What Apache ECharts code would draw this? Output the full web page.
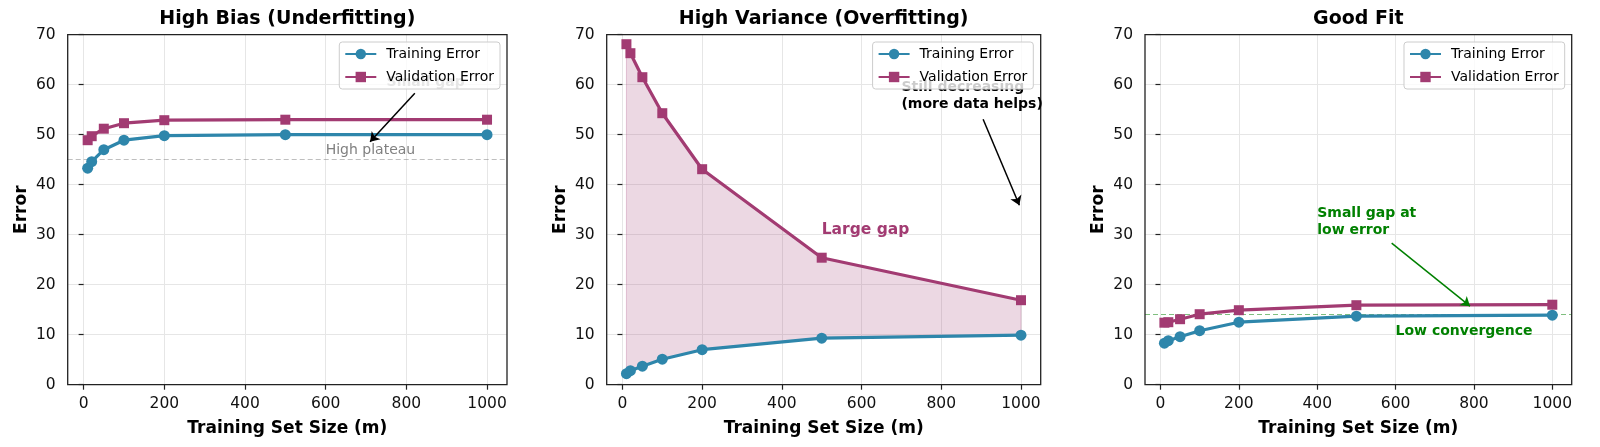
<!DOCTYPE html>
<html>
<head>
<meta charset="utf-8">
<script src="https://cdn.jsdelivr.net/npm/echarts@6/dist/echarts.min.js"></script>
<style>
html, body { margin: 0; padding: 0; background: #fff; }
#main { width: 1600px; height: 447px; }
</style>
</head>
<body>
<div id="main"></div>
<script>
var myChart = echarts.init(document.getElementById('main'));

// training set sizes (x)
var sizes = [10, 20, 50, 100, 200, 500, 1000];

// high bias
var biasTrain = [43.3, 44.6, 47.0, 48.9, 49.8, 50.0, 50.0];
var biasVal = [48.9, 49.7, 51.2, 52.3, 52.9, 53.0, 53.0];
// high variance
var varTrain = [2.2, 2.8, 3.7, 5.1, 7.0, 9.3, 9.9];
var varVal = [68.1, 66.3, 61.5, 54.3, 43.1, 25.4, 16.9];
// good fit
var goodTrain = [8.3, 8.8, 9.6, 10.8, 12.5, 13.7, 13.9];
var goodVal = [12.4, 12.5, 13.1, 14.1, 14.9, 15.9, 16.0];

var xTicks = [0, 200, 400, 600, 800, 1000];
var titles = ['High Bias (Underfitting)', 'High Variance (Overfitting)', 'Good Fit'];
var seriesNames = ['Training Error', 'Validation Error'];

var BLUE = '#2E86AB', PINK = '#A23B72', GREEN = '#008000';
var FONT = 'DejaVu Sans';

function pairs(ys) {
	return sizes.map(function (x, i) { return [x, ys[i]]; });
}

function textMark(name, coord, color, size, weight) {
	return {
		name: name, coord: coord, symbol: 'circle', symbolSize: 0,
		itemStyle: { color: 'transparent', borderWidth: 0 },
		label: {
			show: true, formatter: '{b}', position: 'inside', align: 'left', verticalAlign: 'middle',
			color: color, fontSize: size, fontWeight: weight, lineHeight: 17, fontFamily: FONT
		}
	};
}

function arrow(from, to, color) {
	return {
		silent: true, z: 3, symbol: ['none', 'arrow'], symbolSize: 9,
		label: { show: false }, emphasis: { disabled: true },
		lineStyle: { color: color, width: 1.5, type: 'solid' },
		data: [[{ coord: from }, { coord: to }]]
	};
}

function hline(y, color) {
	return {
		silent: true, z: 1, symbol: ['none', 'none'],
		label: { show: false }, emphasis: { disabled: true },
		lineStyle: { color: color, width: 1.2, type: [5, 3] },
		data: [{ yAxis: y }]
	};
}

// layout of the three panels
var panels = [
	{ train: biasTrain, val: biasVal, left: 67.7, width: 439.3, legendRight: 1100,
		trainLine: hline(45, 'rgba(128,128,128,0.5)'),
		valLine: arrow([821, 58.3], [710, 48.6], '#000'),
		notes: [
			textMark('High plateau', [600, 46.8], '#808080', 14, 'normal'),
			textMark('Small gap', [751, 60.5], '#808080', 14, 'bold')
		] },
	{ train: varTrain, val: varVal, left: 606.7, width: 434, legendRight: 566.7, fill: true,
		valLine: arrow([905, 53.1], [996, 35.9], '#000'),
		notes: [
			textMark('Large gap', [500, 30.9], PINK, 15.5, 'bold'),
			textMark('Still decreasing\n(more data helps)', [700, 57.7], '#000', 14, 'bold')
		] },
	{ train: goodTrain, val: goodVal, left: 1145, width: 426.7, legendRight: 35.3,
		trainLine: hline(14, 'rgba(0,128,0,0.5)'),
		valLine: arrow([590, 28.3], [790, 15.7], GREEN),
		notes: [
			textMark('Small gap at\nlow error', [400, 32.6], GREEN, 14, 'bold'),
			textMark('Low convergence', [600, 10.7], GREEN, 14, 'bold')
		] }
];

var option = {
	animation: false,
	textStyle: { fontFamily: FONT },
	title: [], grid: [], xAxis: [], yAxis: [], legend: [], series: []
};

panels.forEach(function (p, i) {
	option.title.push({
		text: titles[i], left: p.left + p.width / 2, top: 10, textAlign: 'center', padding: 0,
		textStyle: { fontSize: 19, fontWeight: 'bold', color: '#000', fontFamily: FONT }
	});
	option.grid.push({
		left: p.left, top: 34.7, width: p.width, height: 350, show: true, z: 3,
		borderColor: '#222', borderWidth: 1.3, backgroundColor: 'transparent',
		outerBoundsMode: 'none'
	});
	option.xAxis.push({
		type: 'value', gridIndex: i, min: -39.5, max: 1049.5,
		name: 'Training Set Size (m)', nameLocation: 'middle', nameGap: 35,
		nameTextStyle: { fontSize: 17, fontWeight: 'bold', color: '#000', fontFamily: FONT },
		axisLine: { show: false },
		axisTick: { show: true, length: 5, customValues: xTicks, lineStyle: { color: '#222', width: 1.2 } },
		axisLabel: {
			customValues: xTicks, fontSize: 15.5, color: '#111', margin: 11, fontFamily: FONT,
			formatter: function (v) { return v % 200 === 0 ? String(v) : ''; }
		},
		splitLine: { show: true, lineStyle: { color: '#e6e6e6', width: 1 } }
	});
	option.yAxis.push({
		type: 'value', gridIndex: i, min: 0, max: 70, interval: 10,
		name: 'Error', nameLocation: 'middle', nameGap: 38,
		nameTextStyle: { fontSize: 17, fontWeight: 'bold', color: '#000', fontFamily: FONT },
		axisLine: { show: false },
		axisTick: { show: true, length: 5, lineStyle: { color: '#222', width: 1.2 } },
		axisLabel: { fontSize: 15.5, color: '#111', margin: 12, fontFamily: FONT },
		splitLine: { show: true, lineStyle: { color: '#e6e6e6', width: 1 } }
	});
	option.legend.push({
		data: seriesNames, orient: 'vertical', right: p.legendRight, top: 42,
		itemWidth: 31, itemHeight: 13, itemGap: 9, padding: [5, 6, 5, 5],
		backgroundColor: 'rgba(255,255,255,0.8)', borderColor: '#ccc', borderWidth: 1, borderRadius: 3,
		selectedMode: false,
		textStyle: { fontSize: 14, color: '#000', fontFamily: FONT, padding: [0, 0, 0, 5] }
	});

	if (p.fill) {
		// shaded band between the two curves
		option.series.push({
			name: 'gap', type: 'custom', xAxisIndex: i, yAxisIndex: i, silent: true, z: 1,
			data: sizes.map(function (x, k) { return [x, p.train[k], p.val[k]]; }),
			encode: { x: 0, y: [1, 2] },
			renderItem: function (params, api) {
				if (params.dataIndex !== 0) return;
				var upper = [], lower = [];
				for (var k = 0; k < sizes.length; k++) {
					upper.push(api.coord([sizes[k], p.val[k]]));
					lower.unshift(api.coord([sizes[k], p.train[k]]));
				}
				return {
					type: 'polygon', shape: { points: upper.concat(lower) },
					style: { fill: 'rgba(162,59,114,0.2)', stroke: 'rgba(162,59,114,0.25)', lineWidth: 1 }
				};
			}
		});
	}

	var train = {
		name: seriesNames[0], type: 'line', xAxisIndex: i, yAxisIndex: i, data: pairs(p.train),
		symbol: 'circle', symbolSize: 11, z: 2,
		lineStyle: { width: 3.2, color: BLUE }, itemStyle: { color: BLUE }
	};
	if (p.trainLine) train.markLine = p.trainLine;
	var val = {
		name: seriesNames[1], type: 'line', xAxisIndex: i, yAxisIndex: i, data: pairs(p.val),
		symbol: 'rect', symbolSize: 10, z: 2,
		lineStyle: { width: 3.2, color: PINK }, itemStyle: { color: PINK },
		markLine: p.valLine,
		markPoint: { z: 3, silent: true, data: p.notes }
	};
	option.series.push(train, val);
});

myChart.setOption(option);
</script>
</body>
</html>
